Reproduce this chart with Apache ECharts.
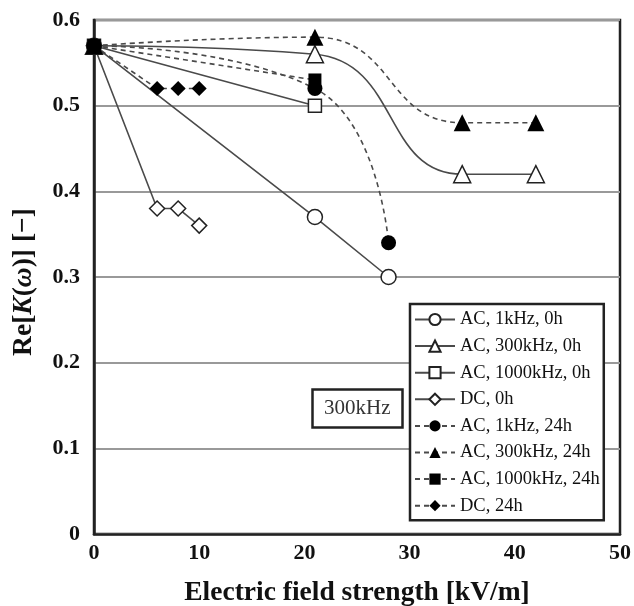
<!DOCTYPE html>
<html>
<head>
<meta charset="utf-8">
<script src="https://cdn.jsdelivr.net/npm/echarts@6/dist/echarts.min.js"></script>
<style>
html, body { margin: 0; padding: 0; background: #fff; }
#chart { width: 634px; height: 606px; }
</style>
</head>
<body>
<div id="chart"></div>
<script>
// data (x: kV/m, y: Re[K(w)])
var xAC1k0 = [0, 21, 28];
var yAC1k0 = [0.57, 0.37, 0.30];
var xAC300k0 = [0, 21, 35, 42];
var yAC300k0 = [0.57, 0.56, 0.42, 0.42];
var xAC1000k0 = [0, 21];
var yAC1000k0 = [0.57, 0.50];
var xDC0 = [0, 6, 8, 10];
var yDC0 = [0.57, 0.38, 0.38, 0.36];
var xAC1k24 = [0, 21, 28];
var yAC1k24 = [0.57, 0.52, 0.34];
var xAC300k24 = [0, 21, 35, 42];
var yAC300k24 = [0.57, 0.58, 0.48, 0.48];
var xAC1000k24 = [0, 21];
var yAC1000k24 = [0.57, 0.53];
var xDC24 = [0, 6, 8, 10];
var yDC24 = [0.57, 0.52, 0.52, 0.52];

var xTicks = [0, 10, 20, 30, 40, 50];
var yTicks = [0, 0.1, 0.2, 0.3, 0.4, 0.5, 0.6];

var serif = '"Liberation Serif", "DejaVu Serif", serif';

function pairs(xs, ys) {
    var out = [];
    for (var i = 0; i < xs.length; i++) out.push([xs[i], ys[i]]);
    return out;
}

function mkSeries(name, xs, ys, symbol, size, filled, dashed, smooth) {
    return {
        name: name,
        type: 'line',
        data: pairs(xs, ys),
        symbol: symbol,
        symbolSize: size,
        smooth: smooth ? 0.5 : false,
        showAllSymbol: true,
        clip: false,
        lineStyle: { color: '#4a4a4a', width: 1.6, type: dashed ? [5, 4] : 'solid' },
        itemStyle: {
            color: filled ? '#000' : '#fff',
            borderColor: '#222',
            borderWidth: filled ? 0 : 1.5
        },
        emphasis: { disabled: true }
    };
}

var option = {
    animation: false,
    backgroundColor: '#fff',
    title: {
        text: '300kHz',
        left: 312,
        top: 389,
        padding: [9, 12],
        borderColor: '#222',
        borderWidth: 2.5,
        textStyle: { fontFamily: serif, fontSize: 21, fontWeight: 'normal', color: '#333' }
    },
    grid: {
        left: 94, right: 14, top: 20, bottom: 72,
        outerBoundsMode: 'none',
        containLabel: false,
        show: true, borderColor: '#222', borderWidth: 2.5
    },
    legend: {
        orient: 'vertical',
        left: 410,
        top: 304,
        padding: [6, 4, 5, 4],
        itemGap: 7.6,
        itemWidth: 40,
        itemHeight: 14,
        backgroundColor: '#fff',
        borderColor: '#222',
        borderWidth: 2.5,
        borderRadius: 0,
        textStyle: { fontFamily: serif, fontSize: 18.5, color: '#111', lineHeight: 18 },
        data: ['AC, 1kHz, 0h', 'AC, 300kHz, 0h', 'AC, 1000kHz, 0h', 'DC, 0h',
               'AC, 1kHz, 24h', 'AC, 300kHz, 24h', 'AC, 1000kHz, 24h', 'DC, 24h']
    },
    xAxis: {
        type: 'value',
        min: xTicks[0],
        max: xTicks[xTicks.length - 1],
        interval: 10,
        name: 'Electric field strength [kV/m]',
        nameLocation: 'middle',
        nameGap: 45,
        nameTextStyle: { fontFamily: serif, fontSize: 27.5, fontWeight: 'bold', color: '#111' },
        axisLine: { show: true, lineStyle: { color: '#222', width: 2.5 } },
        axisTick: { show: false },
        splitLine: { show: false },
        axisLabel: { fontFamily: serif, fontSize: 22, fontWeight: 'bold', color: '#111', margin: 8 }
    },
    yAxis: {
        type: 'value',
        min: yTicks[0],
        max: yTicks[yTicks.length - 1],
        interval: 0.1,
        name: '{a|Re[}{b|K}{a|(}{b|ω}{a|)] [−]}',
        nameLocation: 'middle',
        nameGap: 56,
        nameRotate: 90,
        nameTextStyle: {
            padding: [0, 0, 0, -10],
            rich: {
                a: { fontFamily: serif, fontSize: 27.5, fontWeight: 'bold', color: '#111' },
                b: { fontFamily: serif, fontSize: 27.5, fontWeight: 'bold', fontStyle: 'italic', color: '#111' }
            }
        },
        axisLine: { show: true, lineStyle: { color: '#222', width: 2.5 } },
        axisTick: { show: false },
        splitLine: { show: true, lineStyle: { color: '#999', width: 2 } },
        axisLabel: {
            fontFamily: serif, fontSize: 22, fontWeight: 'bold', color: '#111', margin: 14,
            formatter: function (v) { return v === 0 ? '0' : v.toFixed(1); }
        }
    },
    series: [
        mkSeries('AC, 1kHz, 0h', xAC1k0, yAC1k0, 'circle', 15, false, false, false),
        mkSeries('AC, 300kHz, 0h', xAC300k0, yAC300k0, 'triangle', 17, false, false, true),
        mkSeries('AC, 1000kHz, 0h', xAC1000k0, yAC1000k0, 'rect', 13, false, false, false),
        mkSeries('DC, 0h', xDC0, yDC0, 'diamond', 15, false, false, false),
        mkSeries('AC, 1kHz, 24h', xAC1k24, yAC1k24, 'circle', 15, true, true, true),
        mkSeries('AC, 300kHz, 24h', xAC300k24, yAC300k24, 'triangle', 17, true, true, true),
        mkSeries('AC, 1000kHz, 24h', xAC1000k24, yAC1000k24, 'rect', 13, true, true, false),
        mkSeries('DC, 24h', xDC24, yDC24, 'diamond', 15, true, true, false)
    ]
};

var chart = echarts.init(document.getElementById('chart'), null, { renderer: 'canvas' });
chart.setOption(option);
</script>
</body>
</html>
